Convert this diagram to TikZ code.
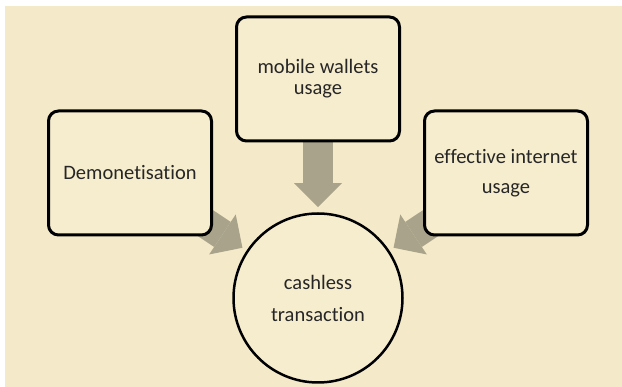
\documentclass[tikz,border=0pt]{standalone}
\usepackage{fontspec}
\setmainfont{Carlito}[Ligatures={NoCommon,NoRequired}]
\usepackage{tikz}
\usetikzlibrary{arrows.meta,backgrounds,positioning}
\definecolor{paper}{RGB}{244,233,200}
\definecolor{boxfill}{RGB}{246,236,206}
\definecolor{flowgray}{RGB}{168,163,138}
\tikzstyle{factor} = [draw=black, line width=3pt, rounded corners=10pt, fill=boxfill, minimum width=163pt, minimum height=124pt, align=center, text=black!85, font=\fontsize{20.5}{24}\selectfont]
\tikzstyle{goal} = [circle, draw=black, line width=2.5pt, fill=boxfill, minimum size=169pt, align=center, text=black!85, font=\fontsize{20.5}{24}\selectfont]
\tikzstyle{push} = [line width=30pt, draw=flowgray, -{Triangle[width=48pt,length=24pt,line width=0pt]}, shorten >=5pt]

\begin{document}
\begin{tikzpicture}[x=1pt,y=-1pt]
    \useasboundingbox (0,0) rectangle (622,387);
    % the three drivers and the outcome
    \node[factor] (demo) at (130,173) {Demonetisation};
    \node[factor] (wallet) at (318,79) {mobile wallets\\[-3pt]usage};
    \node[factor] (net) at (506,173) {effective internet\\[6pt]usage};
    \node[goal] (cash) at (318,298) {cashless\\[8pt]transaction};
    \begin{scope}[on background layer]
        \fill[paper] (5,6) rectangle (622,387);
        \foreach \src in {demo,wallet,net}{
            \draw[push] (\src.center) -- (cash);
        }
    \end{scope}
\end{tikzpicture}
\end{document}
